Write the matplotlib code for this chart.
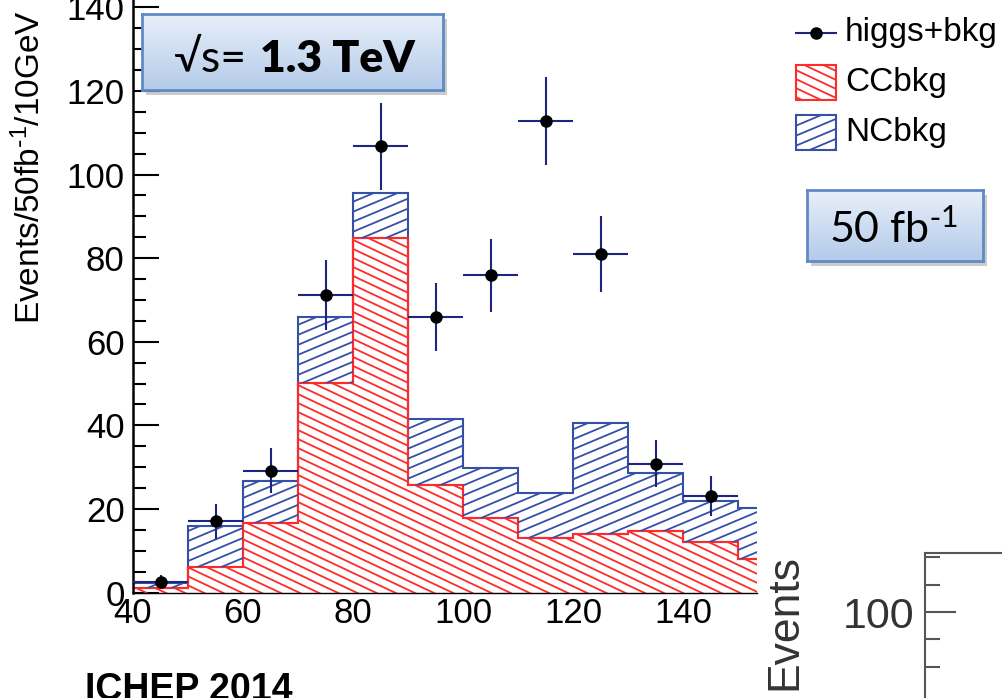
import numpy as np
import matplotlib
matplotlib.use("Agg")
import matplotlib.pyplot as plt
from matplotlib.collections import LineCollection
from matplotlib.patches import Rectangle
from matplotlib.lines import Line2D

plt.rcParams['font.family'] = ['Liberation Sans', 'DejaVu Sans']
plt.rcParams['mathtext.default'] = 'regular'

# histogram data, 10 GeV bins
edges = [40, 50, 60, 70, 80, 90, 100, 110, 120, 130, 140, 150, 160]
cc_bkg = [1.0, 6.1, 16.7, 50.1, 84.7, 25.7, 17.8, 13.0, 13.9, 14.7, 12.0, 8.0]
nc_total = [2.3, 15.9, 26.7, 66.0, 95.5, 41.4, 29.7, 23.8, 40.5, 28.7, 21.8, 20.1]

# higgs+bkg points
pt_x = [45, 55, 65, 75, 85, 95, 105, 115, 125, 135, 145]
pt_y = [2.6, 17.0, 29.1, 71.1, 106.8, 65.9, 75.9, 112.8, 81.0, 30.8, 23.1]
pt_err = [1.6, 4.1, 5.4, 8.4, 10.4, 8.1, 8.7, 10.6, 9.0, 5.6, 4.8]

W, H = 1002, 698
fig = plt.figure(figsize=(W / 100, H / 100), dpi=100)

RED = '#ff2a2a'
BLUE = '#3450a8'
NAVY = '#1c2580'


def fx(px):
    return px / W


def fy(py):
    return 1 - py / H


def hatch_lines(owner, clip, slope, step, color, lw=1.3, clipbox=None):
    # slanted hatch lines in pixel space, clipped to a patch
    segs = []
    for c in np.arange(-700, 1400, step):
        segs.append([(fx(0), fy(c)), (fx(W), fy(c + slope * W))])
    lc = LineCollection(segs, colors=color, linewidths=lw, transform=fig.transFigure)
    lc.set_clip_path(clip)
    if clipbox is not None:
        lc.set_clip_box(clipbox)
    owner.add_artist(lc)
    return lc


ax = fig.add_axes([fx(133), 1 - 592.5 / H, fx(757 - 133), 592.5 / H])
ax.set_xlim(40, 40 + 624 / 5.5)
ax.set_ylim(0, 592.5 / 4.18)

blue = ax.stairs(nc_total, edges, baseline=cc_bkg, fill=True, facecolor='none',
                 edgecolor=BLUE, linewidth=1.5)
red = ax.stairs(cc_bkg, edges, baseline=0, fill=True, facecolor='none',
                edgecolor=RED, linewidth=1.5)
hatch_lines(ax, blue, -0.42, 10, BLUE, clipbox=ax.bbox)
hatch_lines(ax, red, 0.47, 9, RED, clipbox=ax.bbox)

ax.errorbar(pt_x, pt_y, yerr=pt_err, xerr=5, fmt='o', color='black', ms=8,
            ecolor=NAVY, elinewidth=1.5, capsize=0, zorder=5)

for s in ['top', 'right']:
    ax.spines[s].set_visible(False)
ax.spines['left'].set_linewidth(1.8)
ax.spines['bottom'].set_linewidth(1.0)
ax.set_xticks([40, 60, 80, 100, 120, 140])
ax.set_yticks(range(0, 141, 20))
ax.set_yticks(range(0, 141, 5), minor=True)
ax.tick_params(axis='y', which='major', direction='in', length=19, width=1.5,
               labelsize=25, pad=6)
ax.tick_params(axis='y', which='minor', direction='in', length=9.5, width=1.5)
ax.tick_params(axis='x', length=0, labelsize=25, pad=3)

fig.text(fx(30), fy(324), r'Events/50fb$^{\text{-}1}$/10GeV', rotation=90,
         ha='center', va='bottom', fontsize=24)


def blue_box(x0, y0, x1, y1):
    # shadow then gradient box
    sh = Rectangle((fx(x0 + 4), fy(y1 + 5)), fx(x1 - x0), (y1 - y0) / H,
                   transform=fig.transFigure, facecolor='#9a9a9a', alpha=0.5,
                   edgecolor='none', zorder=10)
    fig.add_artist(sh)
    bx = fig.add_axes([fx(x0), fy(y1), fx(x1 - x0), (y1 - y0) / H], zorder=11)
    grad = np.linspace(0, 1, 50).reshape(-1, 1)
    cmap = matplotlib.colors.LinearSegmentedColormap.from_list('g', ['#e8eff9', '#b4cbea'])
    bx.imshow(grad, aspect='auto', cmap=cmap, extent=[0, 1, 0, 1], origin='upper')
    bx.set_xticks([])
    bx.set_yticks([])
    for s in bx.spines.values():
        s.set_color('#5f8ac6')
        s.set_linewidth(2)
    return bx


blue_box(142, 14, 443, 90)
fig.text(fx(173), fy(72), '√s=', fontsize=32, family=['Lato', 'DejaVu Sans'],
         ha='left', va='baseline', zorder=12)
fig.text(fx(260), fy(72), '1.3 TeV', fontsize=32, fontweight='heavy',
         family=['Lato', 'DejaVu Sans'], ha='left', va='baseline', zorder=12)

blue_box(807, 190, 983, 261)
fig.text(fx(829), fy(243), r'50 fb$^{\text{-}1}$', fontsize=31,
         family=['Lato', 'DejaVu Sans'], ha='left', va='baseline', zorder=12)

# legend
fig.add_artist(Line2D([fx(796), fx(836)], [fy(33), fy(33)], color=NAVY, lw=1.5,
                      transform=fig.transFigure))
fig.add_artist(Line2D([fx(816)], [fy(33)], marker='o', color='black', ms=8,
                      transform=fig.transFigure))
fig.text(fx(845), fy(33), 'higgs+bkg', fontsize=24, va='center', ha='left')

r1 = Rectangle((fx(796), fy(100)), fx(40), 35 / H, transform=fig.transFigure,
               facecolor='none', edgecolor=RED, lw=1.5)
fig.add_artist(r1)
hatch_lines(fig, r1, 0.47, 9, RED)
fig.text(fx(845), fy(82), 'CCbkg', fontsize=24, va='center', ha='left')

r2 = Rectangle((fx(796), fy(150)), fx(40), 35 / H, transform=fig.transFigure,
               facecolor='none', edgecolor=BLUE, lw=1.5)
fig.add_artist(r2)
hatch_lines(fig, r2, -0.42, 10, BLUE)
fig.text(fx(845), fy(132), 'NCbkg', fontsize=24, va='center', ha='left')

fig.text(fx(85), fy(700), 'ICHEP 2014', fontsize=27, fontweight='bold',
         ha='left', va='baseline')

# piece of the next plot on the slide
ax2 = fig.add_axes([fx(925), 0, 0.1, (H - 553) / H])
ax2.set_xlim(0, 1)
ax2.set_ylim(100 - 86 / 2.73, 100 + 59 / 2.73)
ax2.set_xticks([])
ax2.set_yticks([100])
ax2.set_yticks([80, 90, 110, 120], minor=True)
ax2.spines['right'].set_visible(False)
ax2.spines['bottom'].set_visible(False)
for s in ['left', 'top']:
    ax2.spines[s].set_color('#555555')
    ax2.spines[s].set_linewidth(1.5)
ax2.tick_params(axis='y', which='major', direction='in', length=22, width=1.5,
                color='#555555', labelsize=31, labelcolor='#333333', pad=8)
ax2.tick_params(axis='y', which='minor', direction='in', length=11, width=1.5,
                color='#555555')
fig.text(fx(785), fy(622), 'Events', rotation=90, ha='center', va='center',
         fontsize=32, color='#333333')

fig.savefig('out.png', dpi=100)
